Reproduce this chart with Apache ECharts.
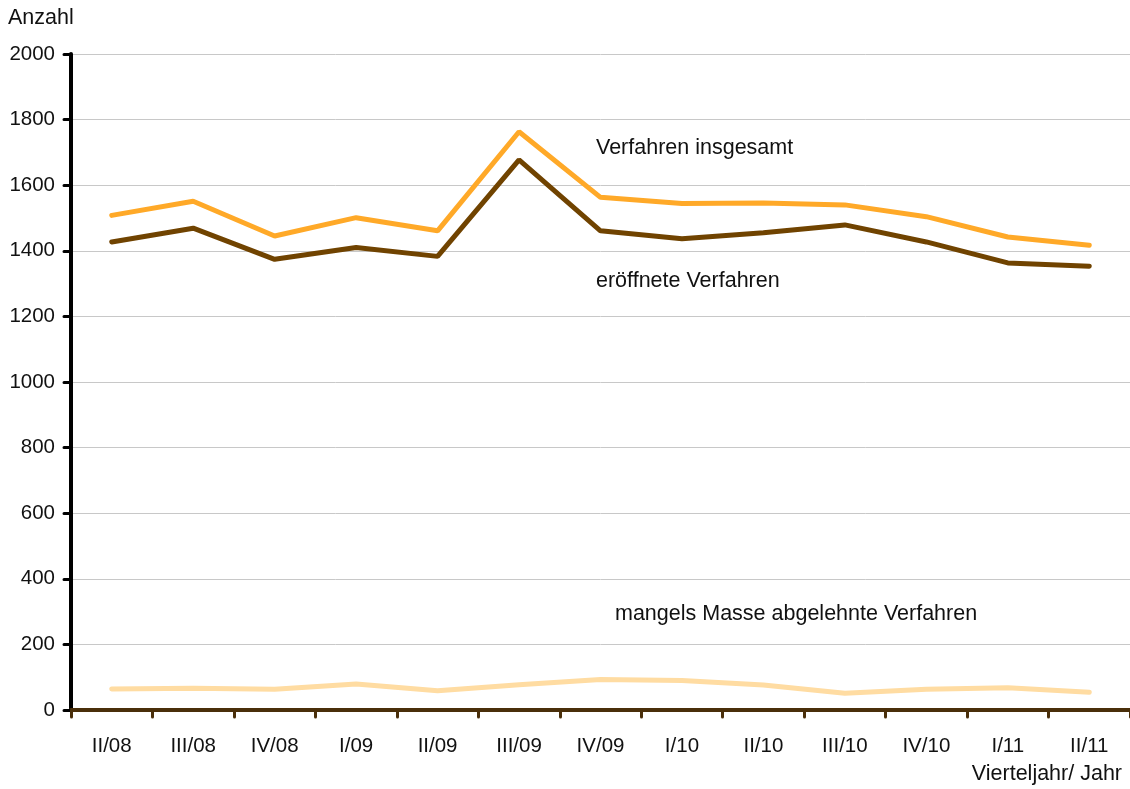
<!DOCTYPE html>
<html>
<head>
    <meta charset="UTF-8">
    <script src="https://cdn.jsdelivr.net/npm/echarts@6/dist/echarts.min.js"></script>
    <style>
        html, body { margin: 0; padding: 0; background: #fff; }
    </style>
</head>
<body>
    <div id="main" style="width: 1130px;height:789px"></div>
    <script>
    // Quartale
    var quartale = ['II/08', 'III/08', 'IV/08', 'I/09', 'II/09', 'III/09', 'IV/09',
        'I/10', 'II/10', 'III/10', 'IV/10', 'I/11', 'II/11'];
    // Verfahren insgesamt
    var insgesamt = [1508, 1551, 1445, 1501, 1461, 1763, 1563, 1544, 1546, 1540, 1504, 1442, 1417];
    // eröffnete Verfahren
    var eroeffnet = [1427, 1469, 1374, 1410, 1383, 1677, 1461, 1437, 1455, 1479, 1427, 1363, 1353];
    // mangels Masse abgelehnte Verfahren
    var abgelehnt = [64, 66, 63, 79, 59, 77, 93, 90, 76, 51, 63, 68, 54];

    var schrift = 'Arial, "Liberation Sans", sans-serif';
    var textFont = '21.5px ' + schrift;

    var option = {
        animation: false,
        grid: { left: 71, right: -7, top: 54, bottom: 79 },
        xAxis: {
            type: 'category',
            data: quartale,
            boundaryGap: true,
            axisLine: { show: true, lineStyle: { color: '#4a2f0a', width: 4 } },
            axisTick: { show: true, interval: 0, length: 7, lineStyle: { color: '#4a2f0a', width: 3, cap: 'round' } },
            axisLabel: { interval: 0, margin: 26, color: '#111', fontSize: 20.5, fontFamily: schrift },
            splitLine: { show: false }
        },
        yAxis: {
            type: 'value',
            min: 0,
            max: 2000,
            interval: 200,
            axisLine: { show: true, lineStyle: { color: '#000', width: 4 } },
            axisTick: { show: true, length: 7, lineStyle: { color: '#000', width: 3, cap: 'round' } },
            axisLabel: {
                margin: 16, color: '#111', fontSize: 20.5, fontFamily: schrift,
                formatter: function(v) { return String(v); }
            },
            splitLine: { show: true, lineStyle: { color: '#c8c8c8', width: 1 } }
        },
        series: [{
            name: 'mangels Masse abgelehnte Verfahren',
            type: 'line',
            data: abgelehnt,
            symbol: 'none',
            lineStyle: { color: '#ffdca2', width: 5, cap: 'round' }
        }, {
            name: 'eröffnete Verfahren',
            type: 'line',
            data: eroeffnet,
            symbol: 'none',
            lineStyle: { color: '#704300', width: 5, cap: 'round' }
        }, {
            name: 'Verfahren insgesamt',
            type: 'line',
            data: insgesamt,
            symbol: 'none',
            lineStyle: { color: '#ffa928', width: 5, cap: 'round' }
        }],
        graphic: [
            { type: 'text', x: 8, y: 18, style: { text: 'Anzahl', font: textFont, fill: '#111', verticalAlign: 'middle' } },
            { type: 'text', x: 1122, y: 774, style: { text: 'Vierteljahr/ Jahr', font: textFont, fill: '#111', align: 'right', verticalAlign: 'middle' } },
            { type: 'text', x: 596, y: 148, style: { text: 'Verfahren insgesamt', font: textFont, fill: '#111', verticalAlign: 'middle' } },
            { type: 'text', x: 596, y: 281, style: { text: 'eröffnete Verfahren', font: textFont, fill: '#111', verticalAlign: 'middle' } },
            { type: 'text', x: 615, y: 614, style: { text: 'mangels Masse abgelehnte Verfahren', font: textFont, fill: '#111', verticalAlign: 'middle' } }
        ]
    };

    var myChart = echarts.init(document.getElementById('main'));
    myChart.setOption(option);
    </script>
</body>
</html>
